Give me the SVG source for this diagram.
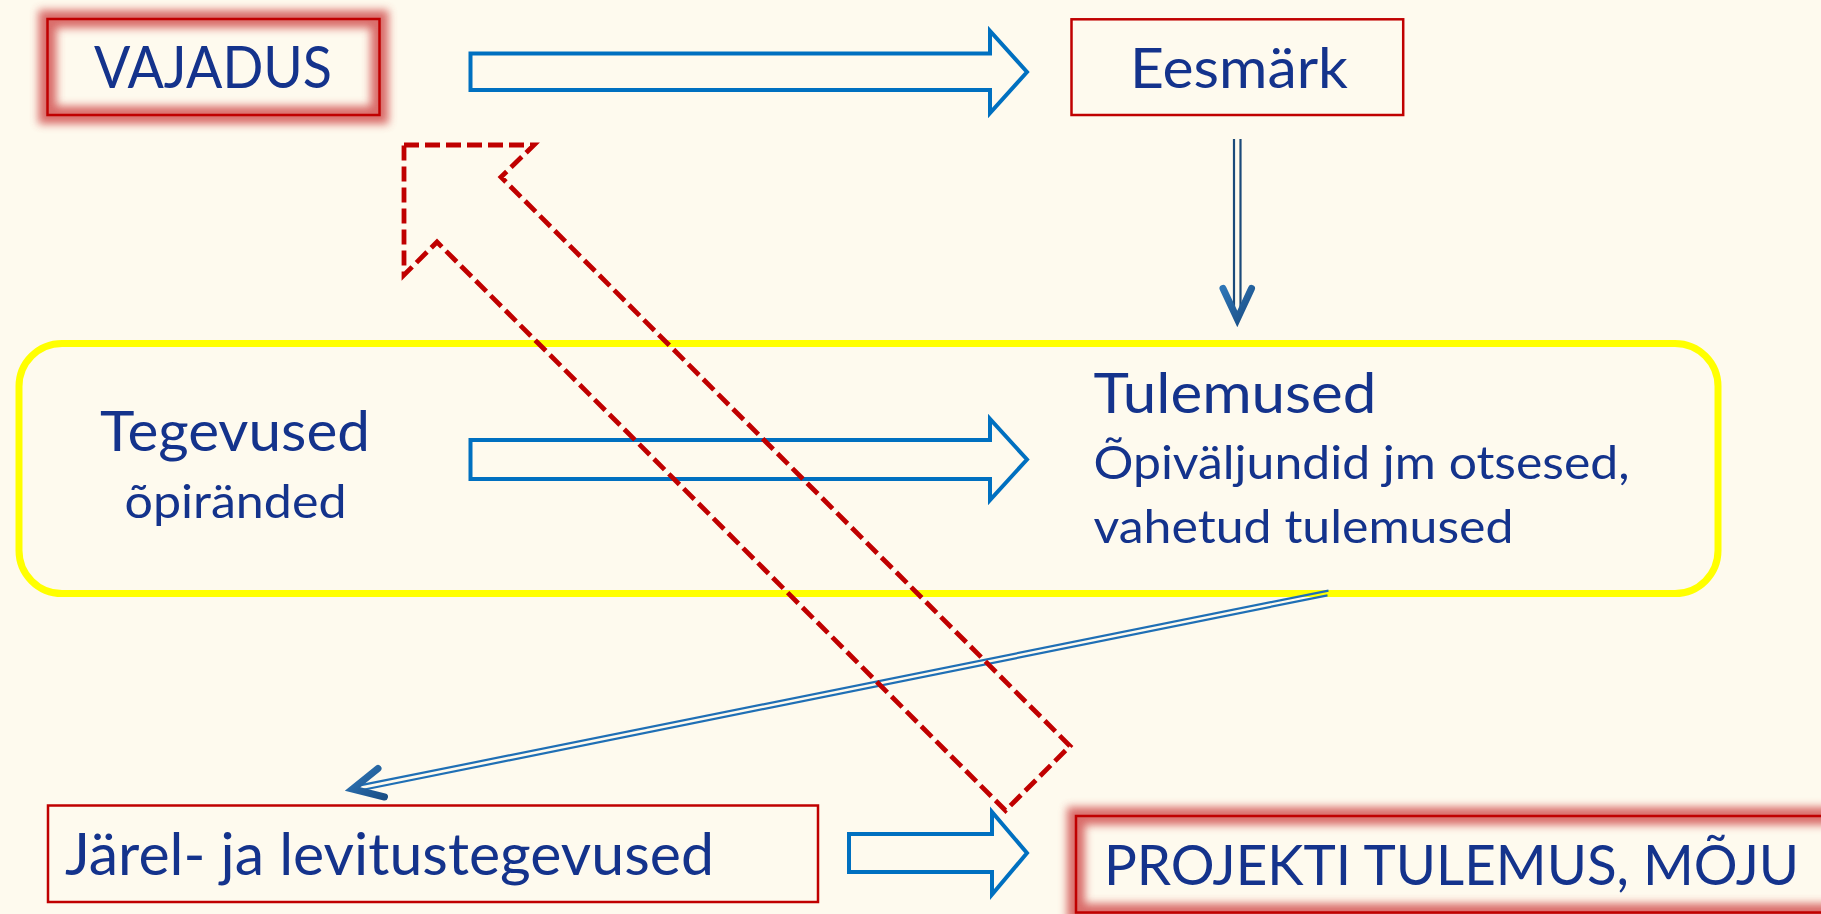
<svg xmlns="http://www.w3.org/2000/svg" width="1821" height="914" viewBox="0 0 1821 914">
  <style>
    .t { fill: #14338c; font-family: Lato, "Open Sans", "Liberation Sans", sans-serif; }
    .big { font-size: 57px; }
    .small { font-size: 47px; }
    .box { fill: none; stroke: #c00000; stroke-width: 2.5; }
    .glowline { fill: none; stroke: #d04848; stroke-width: 18; opacity: 0.8; }
    .fat { fill: none; stroke: #0070c0; stroke-width: 4; stroke-linejoin: miter; }
    .dbl { stroke-width: 2.2; fill: none; }
    .chev { fill: none; stroke-width: 7; stroke-linecap: round; stroke-linejoin: miter; }
    .dash { fill: none; stroke: #c00000; stroke-width: 4.8; stroke-dasharray: 15 6; stroke-linejoin: miter; }
  </style>
  <defs>
    <filter id="glow" x="-20%" y="-50%" width="140%" height="200%">
      <feGaussianBlur stdDeviation="4.5"/>
    </filter>
    <linearGradient id="chevGrad" x1="0" y1="0" x2="1" y2="1">
      <stop offset="0" stop-color="#2e75b6"/>
      <stop offset="1" stop-color="#1b4f86"/>
    </linearGradient>
  </defs>

  <rect x="0" y="0" width="1821" height="914" fill="#fefaee"/>

  <g id="group-frame">
    <rect x="19" y="343.5" width="1699" height="250" rx="43" ry="43" fill="none" stroke="#ffff00" stroke-width="7"/>
  </g>

  <g id="node-vajadus">
    <rect class="glowline" x="47.5" y="19" width="332" height="96" filter="url(#glow)"/>
    <rect class="box" x="47.5" y="19" width="332" height="96"/>
    <text class="t" x="94" y="88" font-size="58" textLength="238" lengthAdjust="spacingAndGlyphs">VAJADUS</text>
  </g>

  <g id="node-eesmark">
    <rect class="box" x="1071.5" y="19.3" width="331.7" height="95.7"/>
    <text class="t big" x="1130" y="88" textLength="218" lengthAdjust="spacingAndGlyphs">Eesmärk</text>
  </g>

  <g id="node-tegevused">
    <text class="t" x="100" y="451" font-size="56" textLength="270" lengthAdjust="spacingAndGlyphs">Tegevused</text>
    <text class="t small" x="124.5" y="518" textLength="222" lengthAdjust="spacingAndGlyphs">õpiränded</text>
  </g>

  <g id="node-tulemused">
    <text class="t big" x="1093.5" y="413" textLength="283" lengthAdjust="spacingAndGlyphs">Tulemused</text>
    <text class="t small" x="1093.5" y="479" textLength="536" lengthAdjust="spacingAndGlyphs">Õpiväljundid jm otsesed,</text>
    <text class="t small" x="1093.5" y="542.5" textLength="420" lengthAdjust="spacingAndGlyphs">vahetud tulemused</text>
  </g>

  <g id="node-jarel">
    <rect class="box" x="48" y="805.5" width="770" height="96.5"/>
    <text class="t" x="65" y="875" font-size="58" textLength="649" lengthAdjust="spacingAndGlyphs">Järel- ja levitustegevused</text>
  </g>

  <g id="node-projekti">
    <rect class="glowline" x="1076" y="816" width="800" height="96.5" filter="url(#glow)"/>
    <rect class="box" x="1076" y="816" width="800" height="96.5"/>
    <text class="t" x="1104" y="885" font-size="56" textLength="695" lengthAdjust="spacingAndGlyphs">PROJEKTI TULEMUS, MÕJU</text>
  </g>

  <g id="connectors">
    <path class="fat" d="M470.5,53.5 H990 V31 L1027,72 L990,113 V90 H470.5 Z"/>
    <path class="fat" d="M470.5,440 H990 V419 L1027,459.5 L990,500 V479 H470.5 Z"/>
    <path class="fat" d="M849,834 H992 V812 L1027,853 L992,894.5 V872 H849 Z"/>

    <g id="arrow-eesmark-tulemused">
      <line class="dbl" x1="1234" y1="139" x2="1234" y2="314" stroke="#1b4a7a"/>
      <line class="dbl" x1="1240.5" y1="139" x2="1240.5" y2="314" stroke="#1b4a7a"/>
      <polyline class="chev" points="1223,288.5 1237.3,319 1251.5,288.5" stroke="url(#chevGrad)"/>
    </g>

    <g id="arrow-tulemused-jarel">
      <line class="dbl" x1="1328.5" y1="590.6" x2="356" y2="786.2" stroke="#1f6fb5"/>
      <line class="dbl" x1="1327.5" y1="595.4" x2="357" y2="791" stroke="#1f6fb5"/>
      <polyline class="chev" points="378,768.5 352.5,789 384.5,797" stroke="url(#chevGrad)"/>
    </g>

    <path class="dash" d="M404,145 H534 L501,177 L1070,746 L1005.5,810.5 L437,242 L404,275 Z"/>
  </g>
</svg>
